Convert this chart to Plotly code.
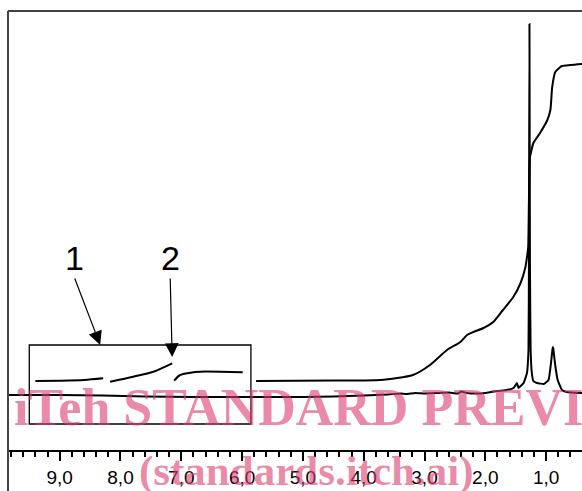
import plotly.graph_objects as go

# ---- data (chemical shift in ppm, intensity in arbitrary units) ----
spec_ppm = [9.85, 9.0, 8.3, 7.6, 6.8, 6.0, 5.0, 4.5, 4.0, 3.6, 3.4, 3.3, 3.15, 3.0, 2.8, 2.6,
            2.45, 2.4, 2.3, 2.1, 1.95, 1.81, 1.645, 1.535, 1.48, 1.455, 1.37, 1.315, 1.29,
            1.283, 1.274, 1.266, 1.255, 1.235, 1.21, 1.15, 1.04, 0.96, 0.92, 0.895, 0.888,
            0.881, 0.855, 0.81, 0.74, 0.66, 0.41]
spec_int = [0, 0, -0.5, -1.5, -2, -2, -2, -1.5, -0.5, 0.5, 1.5, 1, 2, 1.5, 2, 2.5,
            1.5, 3.5, 2, 1.5, 2.5, 4, 5, 7, 12, 7, 12, 22, 45,
            130, 371, 130, 45, 22, 14, 12, 11, 15, 32, 46, 48,
            46, 32, 15, 5, 3, 2]

integral_ppm = [5.77, 4.5, 3.73, 3.19, 2.91, 2.63, 2.41, 2.30, 2.20, 2.03, 1.87, 1.71,
                1.54, 1.42, 1.34, 1.31, 1.295, 1.285, 1.275, 1.265, 1.24, 1.21, 1.10,
                0.98, 0.93, 0.90, 0.85, 0.74, 0.60, 0.41]
integral_val = [14, 14.5, 15, 20, 30, 45, 53, 60, 63, 67, 73, 85,
                98, 112, 128, 140, 148, 185, 225, 238, 245, 252, 262,
                275, 285, 308, 323, 329, 330, 331]

# expanded integral pieces inside the inset box
pieceA_ppm = [9.40, 9.0, 8.6, 8.285]
pieceA_val = [14, 14.3, 15, 16.7]
pieceB_ppm = [8.17, 7.79, 7.46, 7.15]
pieceB_val = [13.3, 18.3, 23.3, 31.7]
pieceC_ppm = [7.117, 7.02, 6.85, 6.69, 5.99]
pieceC_val = [14.3, 20, 22.3, 23.3, 22.7]

box_ppm = [9.50, 5.855]
box_int = [-29, 50]

label_text = ["1", "2"]
label_ppm = [8.334, 7.15]        # arrow tips
label_int = [50, 38]

tick_vals = [9, 8, 7, 6, 5, 4, 3, 2, 1]
tick_text = ["9,0", "8,0", "7,0", "6,0", "5,0", "4,0", "3,0", "2,0", "1,0"]

x_range = [9.85, 0.41]
y_range = [-55, 384]

watermark_1 = "iTeh STANDARD PREVIEW"
watermark_2 = "(standards.itch.ai)"

# ---- figure ----
line_style = dict(color="black", width=2)
fig = go.Figure()
fig.add_trace(go.Scatter(x=spec_ppm, y=spec_int, mode="lines", line=line_style,
                         line_shape="spline", line_smoothing=0.3))
fig.add_trace(go.Scatter(x=integral_ppm, y=integral_val, mode="lines", line=line_style,
                         line_shape="spline", line_smoothing=0.6))
for px, py in [(pieceA_ppm, pieceA_val), (pieceB_ppm, pieceB_val), (pieceC_ppm, pieceC_val)]:
    fig.add_trace(go.Scatter(x=px, y=py, mode="lines", line=line_style,
                             line_shape="spline", line_smoothing=0.8))

fig.add_shape(type="rect", xref="x", yref="y", x0=box_ppm[0], x1=box_ppm[1],
              y0=box_int[0], y1=box_int[1], line=dict(color="black", width=1.3))
# frame: top line and left line (left line runs to the page bottom)
fig.add_shape(type="line", xref="paper", yref="paper", x0=0, x1=1, y0=1, y1=1,
              line=dict(color="black", width=1.5))
fig.add_shape(type="line", xref="paper", yref="paper", x0=0, x1=0, y0=-0.1, y1=1,
              line=dict(color="#444444", width=2))

annotations = []
for t, xp, yp, ax, ay in zip(label_text, label_ppm, label_int, [-26, -2], [-68, -80]):
    annotations.append(dict(x=xp, y=yp, xref="x", yref="y", text="", showarrow=True,
                            ax=ax, ay=ay, arrowhead=2, arrowsize=2.3, arrowwidth=1.2,
                            arrowcolor="black", standoff=0))
    annotations.append(dict(x=xp, y=yp, xref="x", yref="y", text=t, showarrow=False,
                            xshift=ax, yshift=-ay - 2, yanchor="bottom",
                            font=dict(family="Liberation Sans Narrow, Liberation Sans, Arial, sans-serif",
                                      size=34, color="black")))

wm_color = "rgba(220,60,110,0.6)"
annotations.append(dict(x=(12 - 8) / 574, y=(450 - 425) / 439, xref="paper", yref="paper",
                        text="<b>" + watermark_1 + "</b>", showarrow=False,
                        xanchor="left", yanchor="bottom", yshift=-13,
                        font=dict(family="Liberation Serif, Times New Roman, serif", size=52,
                                  color=wm_color)))
annotations.append(dict(x=(137 - 8) / 574, y=(450 - 486) / 439, xref="paper", yref="paper",
                        text="<b>" + watermark_2 + "</b>", showarrow=False,
                        xanchor="left", yanchor="bottom", yshift=-11,
                        font=dict(family="Liberation Serif, Times New Roman, serif", size=43,
                                  color=wm_color)))

fig.update_layout(
    width=582, height=491,
    margin=dict(l=8, r=0, t=11, b=41, pad=0),
    paper_bgcolor="white", plot_bgcolor="white",
    showlegend=False,
    annotations=annotations,
    xaxis=dict(range=x_range, showgrid=False, zeroline=False,
               showline=True, linecolor="black", linewidth=2,
               ticks="outside", ticklen=9, tickwidth=2, tickcolor="black",
               tickvals=tick_vals, ticktext=tick_text, ticklabelstandoff=0,
               tickfont=dict(family="Liberation Sans, Arial, sans-serif", size=19, color="black"),
               minor=dict(dtick=0.2, tick0=0, ticks="outside", ticklen=5, tickwidth=1.5,
                          tickcolor="black", showgrid=False)),
    yaxis=dict(range=y_range, visible=False, showgrid=False, zeroline=False),
)

fig.write_html("out.html")
